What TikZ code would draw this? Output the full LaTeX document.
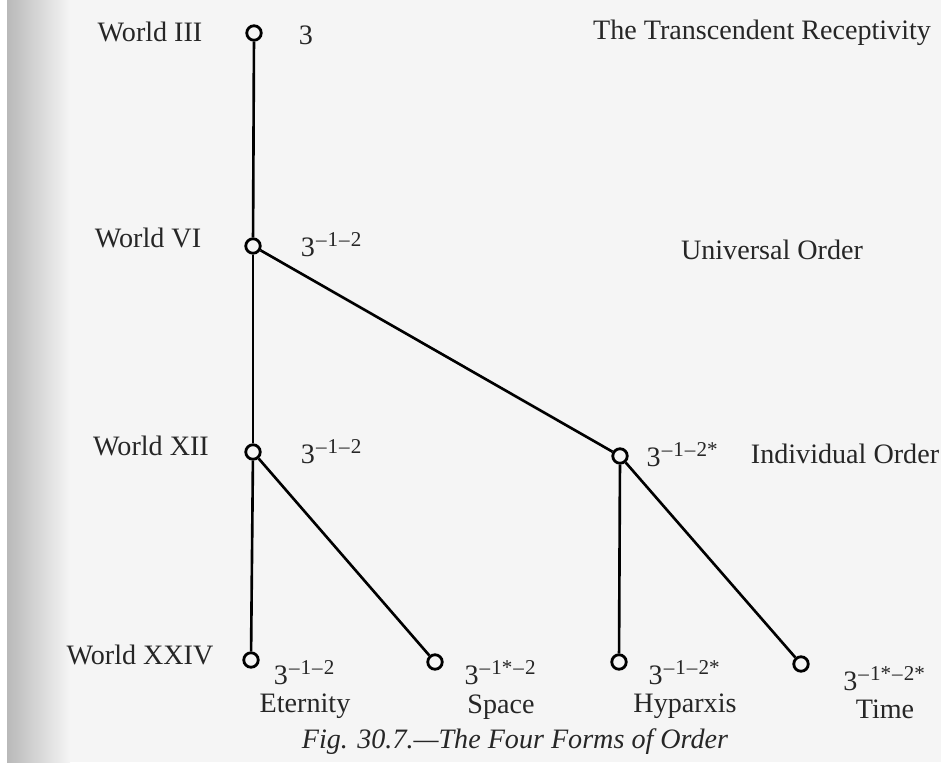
\documentclass[tikz,border=0pt]{standalone}
\usepackage{fontspec}
\setmainfont{Liberation Serif}
\usetikzlibrary{positioning}
\definecolor{paper}{gray}{0.96}
\newcommand{\mn}{\kern0.05em--\kern0.05em}
\newcommand{\fm}[1]{3\textsuperscript{#1}}
\begin{document}
\begin{tikzpicture}[x=0.1mm,y=-0.1mm,
  ring/.style={circle,draw,line width=0.8pt,inner sep=0pt,minimum size=1.45mm,fill=paper},
  link/.style={line width=0.75pt},
  lab/.style={font=\fontsize{8}{9.5}\selectfont,inner sep=0pt,text=black!85},
  leaf/.style={lab,align=center}]
  \useasboundingbox (0,0) rectangle (941,762);
  \fill[paper] (0,0) rectangle (941,762);
  \fill[white] (0,0) rectangle (7,762);
  \shade[left color=gray!55,right color=paper] (7,0) rectangle (70,762);

  \node[ring] (w3) at (254,33) {};
  \node[ring] (w6) at (253,246) {};
  \node[ring] (w12) at (253,452) {};
  \node[ring] (ind) at (620,456) {};
  \node[ring] (ete) at (251,660) {};
  \node[ring] (spa) at (435,662) {};
  \node[ring] (hyp) at (619,662) {};
  \node[ring] (tim) at (801,664) {};

  \draw[link] (w3) -- (w6);
  \draw[link] (w6) -- (w12);
  \draw[link] (w6) -- (ind);
  \draw[link] (w12) -- (ete);
  \draw[link] (w12) -- (spa);
  \draw[link] (ind) -- (hyp);
  \draw[link] (ind) -- (tim);

  \node[lab] (n3) at (150,32) {World III};
  \node[lab] (n6) at (148,238) {World VI};
  \node[lab] (n12) at (151,446) {World XII};
  \node[lab] (n24) at (140,655) {World XXIV};

  \node[lab] (f3) at (306,35) {3};
  \node[lab] (f6) at (332,245) {\fm{\mn1\mn2}};
  \node[lab] (f12) at (332,452) {\fm{\mn1\mn2}};
  \node[lab] (find) at (683,455) {\fm{\mn1\mn2*}};

  \node[lab] (o3) at (762,33) {The Transcendent Receptivity};
  \node[lab] (o6) at (772,250) {Universal Order};
  \node[lab] (oind) at (845,454) {Individual Order};

  \node[leaf] (lete) at (305,690) {\fm{\mn1\mn2}\\[-1.5pt]Eternity};
  \node[leaf] (lspa) at (501,690) {\fm{\mn1*\mn2}\\[-1.5pt]Space};
  \node[leaf] (lhyp) at (685,690) {\fm{\mn1\mn2*}\\[-1.5pt]Hyparxis};
  \node[leaf] (ltim) at (885,693) {\fm{\mn1*\mn2*}\\[-1.5pt]Time};

  \node[lab] (cap) at (515,742) {\itshape Fig. 30.7.---The Four Forms of Order};
\end{tikzpicture}
\end{document}
